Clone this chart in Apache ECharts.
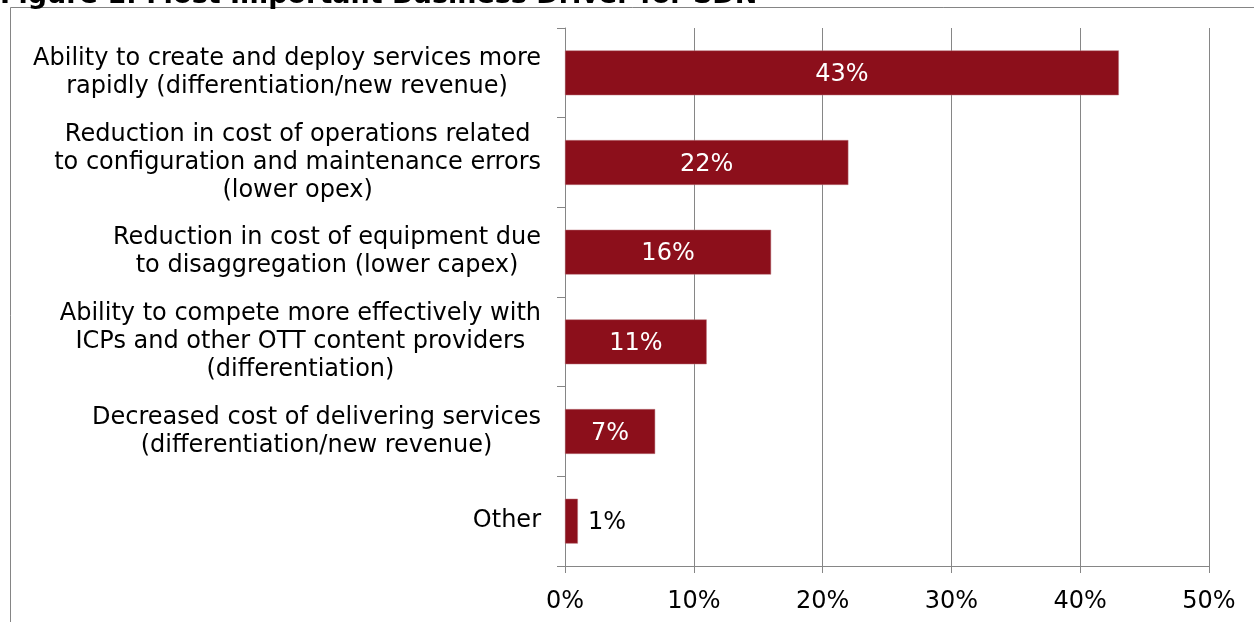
<!DOCTYPE html>
<html>
<head>
<meta charset="utf-8">
<script src="https://cdn.jsdelivr.net/npm/echarts@6/dist/echarts.min.js"></script>
<style>
  html, body { margin: 0; padding: 0; background: #ffffff; }
  #chart { width: 1254px; height: 622px; }
</style>
</head>
<body>
<div id="chart"></div>
<script>
// Survey responses: most important business driver for SDN
const drivers = [
  'Ability to create and deploy services more\nrapidly (differentiation/new revenue)',
  'Reduction in cost of operations related\nto configuration and maintenance errors\n(lower opex)',
  'Reduction in cost of equipment due\nto disaggregation (lower capex)',
  'Ability to compete more effectively with\nICPs and other OTT content providers\n(differentiation)',
  'Decreased cost of delivering services\n(differentiation/new revenue)',
  'Other'
];
const shares = [43, 22, 16, 11, 7, 1];
const axisTicks = [0, 10, 20, 30, 40, 50];

const FONT = '"DejaVu Sans", Verdana, sans-serif';
const BAR = '#8c0f1b';

const chart = echarts.init(document.getElementById('chart'), null, { renderer: 'canvas' });

chart.setOption({
  backgroundColor: '#ffffff',
  animation: false,
  title: {
    text: 'Figure 1: Most Important Business Driver for SDN',
    left: 0,
    top: -18,
    padding: 0,
    textStyle: { fontFamily: FONT, fontWeight: 'bold', fontSize: 27, lineHeight: 27, color: '#000' }
  },
  graphic: [{
    type: 'rect',
    shape: { x: 10.5, y: 7.5, width: 1260, height: 640 },
    style: { fill: 'none', stroke: '#858585', lineWidth: 1 },
    silent: true,
    z: -1
  }],
  grid: { left: 565, right: 45, top: 28, bottom: 56, containLabel: false },
  xAxis: {
    type: 'value',
    min: axisTicks[0],
    max: axisTicks[axisTicks.length - 1],
    interval: axisTicks[1] - axisTicks[0],
    axisLine: { show: true, lineStyle: { color: '#868686', width: 1 } },
    axisTick: { show: true, length: 7, lineStyle: { color: '#868686' } },
    splitLine: { show: true, lineStyle: { color: '#868686', width: 1 } },
    axisLabel: {
      margin: 24,
      fontFamily: FONT,
      fontSize: 24,
      color: '#000',
      formatter: v => v + '%'
    }
  },
  yAxis: {
    type: 'category',
    inverse: true,
    data: drivers,
    axisLine: { show: true, lineStyle: { color: '#868686', width: 1 } },
    axisTick: { show: true, length: 8, lineStyle: { color: '#868686' } },
    axisLabel: {
      margin: 24,
      formatter: v => v.split('\n').map(l => '{c|' + l + '}').join('\n'),
      rich: {
        c: { align: 'center', fontFamily: FONT, fontSize: 24, lineHeight: 28, color: '#000' }
      }
    }
  },
  series: [{
    type: 'bar',
    data: shares.map((v, i) => ({
      value: v,
      label: i === shares.length - 1
        ? { position: 'right', color: '#000', distance: 10 }
        : { position: 'inside', color: '#fff' }
    })),
    barWidth: '50%',
    itemStyle: { color: BAR, borderColor: '#b8737a', borderWidth: 0.5 },
    label: {
      show: true,
      fontFamily: FONT,
      fontSize: 24,
      offset: [0, 2],
      formatter: p => p.value + '%'
    }
  }]
});
</script>
</body>
</html>
